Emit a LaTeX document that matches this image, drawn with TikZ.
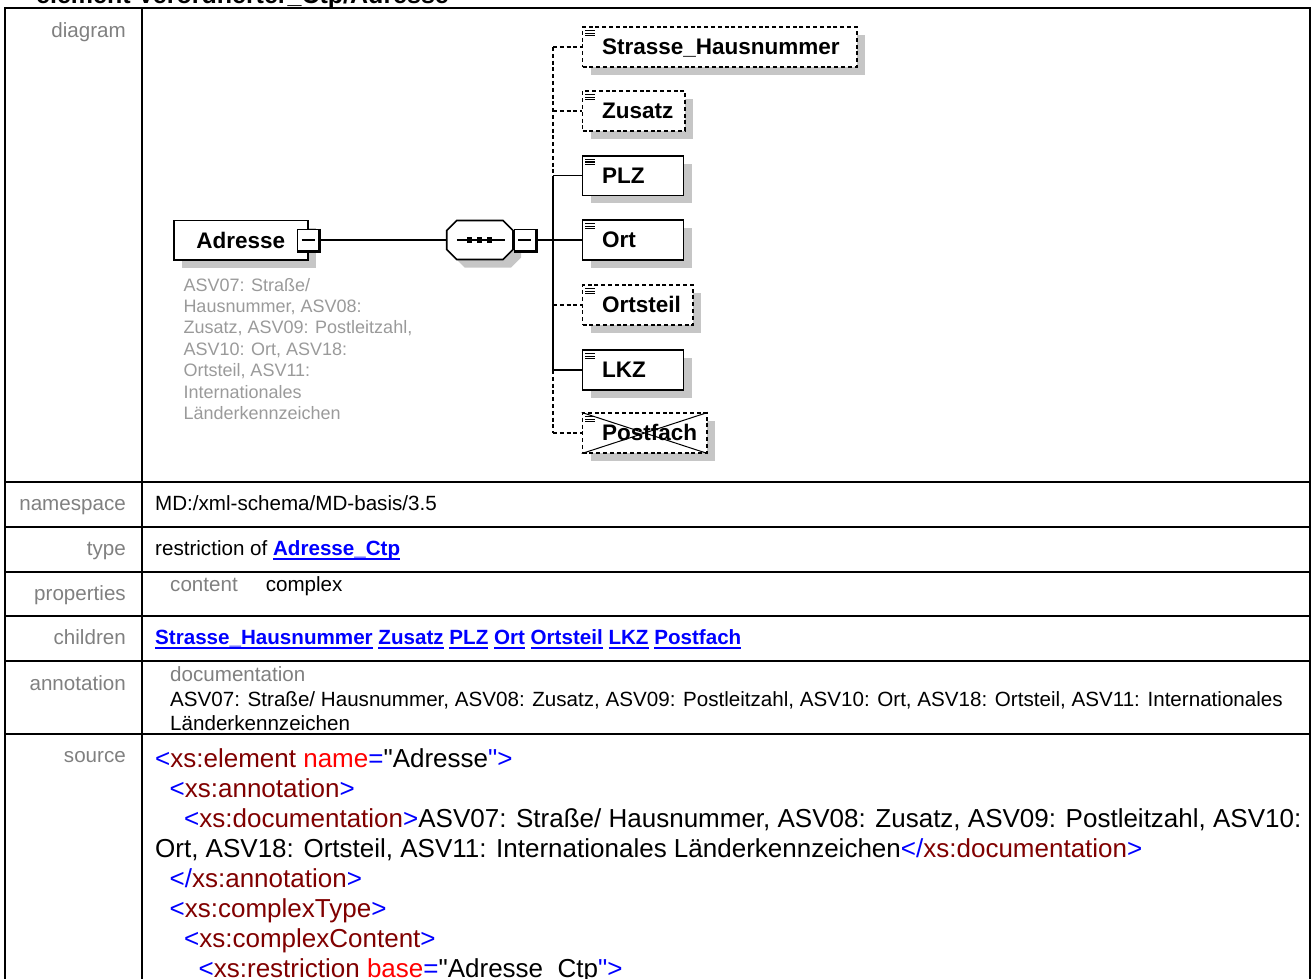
\documentclass[tikz,border=0pt]{standalone}
\usepackage{fontspec}
\setmainfont{Liberation Sans}
\usepackage{xcolor}
\usetikzlibrary{positioning,shadows}

\definecolor{lblgray}{HTML}{808080}
\definecolor{notegray}{HTML}{9A9A9A}
\definecolor{shadowgray}{HTML}{C6C6C6}
\definecolor{tagred}{HTML}{800000}
\definecolor{attred}{HTML}{FF0000}
\definecolor{linkblue}{HTML}{0000FF}

\newcommand{\lnk}[1]{{\color{linkblue}\bfseries\setbox0\hbox{#1}\rlap{\rule[-4pt]{\wd0}{1.5pt}}\box0}}
\newcommand{\bl}[1]{\textcolor{linkblue}{#1}}
\newcommand{\tg}[1]{\textcolor{tagred}{#1}}
\newcommand{\at}[1]{\textcolor{attred}{#1}}
\newcommand{\qt}{\textquotedbl}

\tikzset{
  lbl/.style={anchor=base east, inner sep=0pt, text=lblgray, font=\fontsize{20.6}{24}\selectfont},
  val/.style={anchor=base west, inner sep=0pt, font=\fontsize{20.6}{24}\selectfont},
  gridline/.style={line width=2pt},
  conn/.style={line width=1.5pt},
  optline/.style={dash pattern=on 4pt off 2.8pt},
  elem/.style={draw, fill=white, line width=1.7pt,
    drop shadow={shadow xshift=8pt, shadow yshift=-8pt, fill=shadowgray, opacity=1}},
  elembox/.style={elem, anchor=west, minimum height=39.4pt, inner xsep=0pt, inner ysep=0pt,
    text width=#1, align=left, text height=15pt, text depth=0pt,
    font=\fontsize{22.5}{26}\selectfont\bfseries, execute at begin node={\hspace*{19.5pt}}},
  minusbox/.style={draw, fill=white, line width=1.4pt, minimum size=21pt, inner sep=0pt,
    path picture={\draw[line width=1.4pt] ([xshift=4pt]path picture bounding box.west)
      -- ([xshift=-4pt]path picture bounding box.east);}},
}

\begin{document}
\begin{tikzpicture}[x=1pt, y=-1pt]
  \useasboundingbox (0,0) rectangle (1311,979);
  % heading, cut by the top edge
  \node[anchor=base west, inner sep=0pt, font=\fontsize{25}{30}\selectfont\bfseries] (title) at (36,3.5) {element Verordnerter\_Ctp/Adresse};

  % table frame
  \draw[gridline] (5,990) -- (5,8) -- (1310,8) -- (1310,990);
  \draw[gridline] (142,8) -- (142,990);
  \foreach \yy in {482,527,572,616,661,733.5}
    \draw[gridline] (5,\yy) -- (1310,\yy);

  % row labels
  \node[lbl] (l-diag) at (126,37.3) {diagram};
  \node[lbl] (l-ns) at (126,510.7) {namespace};
  \node[lbl] (l-type) at (126,555.7) {type};
  \node[lbl] (l-prop) at (126,600.5) {properties};
  \node[lbl] (l-chld) at (126,644.5) {children};
  \node[lbl] (l-ann) at (126,690) {annotation};
  \node[lbl] (l-src) at (126,762) {source};

  % row values (multi-line nodes sit on their last baseline)
  \node[val] (ns) at (155,510.7) {MD:/xml-schema/MD-basis/3.5};
  \node[val] (type) at (155,555.7) {restriction of \lnk{Adresse\_Ctp}};
  \node[val, text=lblgray] (p-key) at (170,591.5) {content};
  \node[val] (p-val) at (265.6,591.5) {complex};
  \node[val] (chld) at (155,644.5) {\lnk{Strasse\_Hausnummer} \lnk{Zusatz} \lnk{PLZ} \lnk{Ort} \lnk{Ortsteil} \lnk{LKZ} \lnk{Postfach}};
  \node[val, text=lblgray] (a-key) at (170,681) {documentation};
  \node[val, align=left] (a-val) at (170,730.4) {ASV07: Straße/ Hausnummer, ASV08: Zusatz, ASV09: Postleitzahl, ASV10: Ort, ASV18: Ortsteil, ASV11: Internationales\\Länderkennzeichen};
  \node[val, align=left, font=\fontsize{26}{30}\selectfont] (src) at (155,977.5) {%
    \bl{<}\tg{xs:element} \at{name}\bl{=}\qt Adresse\bl{\qt>}\\
    \hspace*{14.5pt}\bl{<}\tg{xs:annotation}\bl{>}\\
    \hspace*{29pt}\bl{<}\tg{xs:documentation}\bl{>}ASV07: Straße/ Hausnummer, ASV08: Zusatz, ASV09: Postleitzahl, ASV10:\\
    Ort, ASV18: Ortsteil, ASV11: Internationales Länderkennzeichen\bl{</}\tg{xs:documentation}\bl{>}\\
    \hspace*{14.5pt}\bl{</}\tg{xs:annotation}\bl{>}\\
    \hspace*{14.5pt}\bl{<}\tg{xs:complexType}\bl{>}\\
    \hspace*{29pt}\bl{<}\tg{xs:complexContent}\bl{>}\\
    \hspace*{43.5pt}\bl{<}\tg{xs:restriction} \at{base}\bl{=}\qt Adresse\_Ctp\bl{\qt>}};

  % diagram: root element
  \node[elem, minimum width=133.7pt, minimum height=39.3pt, inner sep=0pt,
        font=\fontsize{22.5}{26}\selectfont\bfseries] (adr) at (240.8,240) {Adresse};
  \node[minusbox] (adr-m) at (308,240) {};
  \node[anchor=base west, inner sep=0pt, align=left, text=notegray,
        font=\fontsize{18}{21.4}\selectfont] (adr-note) at (183.3,419.4)
    {ASV07: Straße/\\Hausnummer, ASV08:\\Zusatz, ASV09: Postleitzahl,\\ASV10: Ort, ASV18:\\Ortsteil, ASV11:\\Internationales\\Länderkennzeichen};

  % sequence compositor
  \node[minimum width=66.3pt, minimum height=39pt, inner sep=0pt] (seq) at (479.85,240) {};
  \fill[shadowgray, shift={(8,8)}] (456.7,220.5) -- (503,220.5) -- (513,230.5) -- (513,249.5)
    -- (503,259.5) -- (456.7,259.5) -- (446.7,249.5) -- (446.7,230.5) -- cycle;
  \draw[fill=white, line width=1.7pt] (456.7,220.5) -- (503,220.5) -- (513,230.5) -- (513,249.5)
    -- (503,259.5) -- (456.7,259.5) -- (446.7,249.5) -- (446.7,230.5) -- cycle;
  \draw[conn] ([xshift=-23pt]seq.center) -- ([xshift=25pt]seq.center);
  \foreach \dx in {-10,0,10}
    \fill ([xshift=\dx pt]seq.center) +(-2.6,-2.6) rectangle +(2.6,2.6);
  \node[minusbox] (seq-m) at (524.8,240) {};
  \foreach \m in {adr-m, seq-m}
    \draw[line width=2.4pt] ([xshift=0.6pt]\m.north east) -- ([xshift=0.6pt,yshift=-0.6pt]\m.south east) -- ([yshift=-0.6pt]\m.south west);

  % child elements
  \foreach \nm/\yy/\ww/\ln/\txt in {strasse/47/274.3/optline/Strasse\_Hausnummer,
      zusatz/111/102.6/optline/Zusatz, plz/175.7/101/solid/PLZ, ort/240/101/solid/Ort,
      ortsteil/305/110.6/optline/Ortsteil, lkz/370/101/solid/LKZ, postfach/433/124.3/optline/Postfach}
  {
    \node[elembox=\ww pt, \ln] (\nm) at (581.7,\yy) {\txt};
    \foreach \k in {4.4,6.9,9.4}
      \draw[line width=1.2pt] ([xshift=3.3pt,yshift=-\k pt]\nm.north west) -- ++(10,0);
    \coordinate (j-\nm) at (553,\yy);
    \draw[conn, \ln] (j-\nm) -- (\nm.west);
  }
  \draw[line width=1pt] (postfach.north west) -- (postfach.south east)
    (postfach.north east) -- (postfach.south west);

  % connectors
  \draw[conn, optline] (j-strasse) -- (j-plz);
  \draw[conn] (j-plz) -- (j-lkz);
  \draw[conn, optline] (j-lkz) -- (j-postfach);
  \draw[conn] (adr-m) -- (seq);
  \draw[conn] (seq-m) -- (j-ort);
\end{tikzpicture}
\end{document}
